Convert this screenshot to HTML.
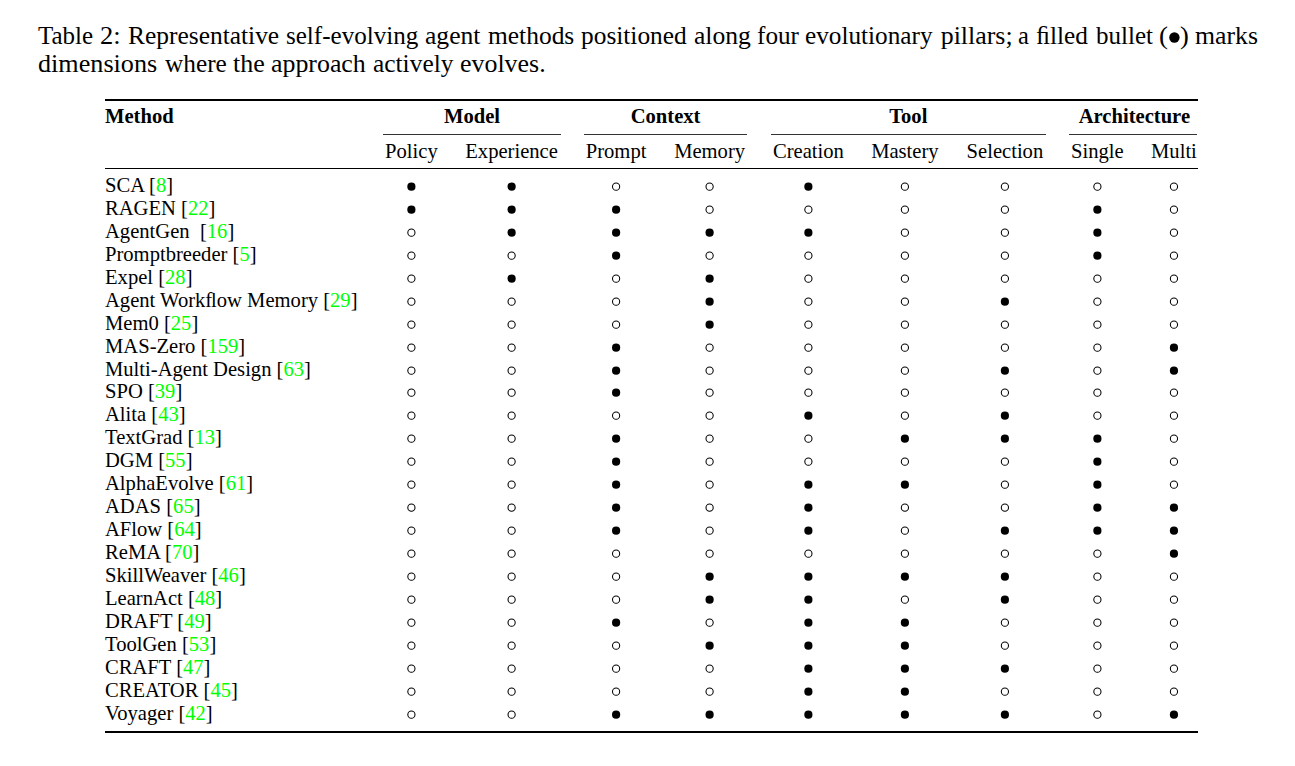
<!DOCTYPE html>
<html><head><meta charset="utf-8"><style>
html,body{margin:0;padding:0;background:#fff;}
body{width:1295px;height:766px;position:relative;overflow:hidden;font-family:"Liberation Serif",serif;color:#000;}
.a{position:absolute;white-space:nowrap;line-height:1;}
.c{position:absolute;white-space:nowrap;line-height:1;text-align:center;width:200px;}
.b{font-weight:bold;}
.g{color:#00ff00;}
.r{position:absolute;background:#000;}
.d{position:absolute;border-radius:50%;background:#000;}
.o{position:absolute;border-radius:50%;box-sizing:border-box;border:1.05px solid #000;}
</style></head><body>

<div class="a" style="left:37.62px;top:23.16px;font-size:25.9px;transform:scaleX(0.9650);transform-origin:0 0">Table</div>
<div class="a" style="left:99.88px;top:23.16px;font-size:25.9px;transform:scaleX(1.0235);transform-origin:0 0">2:</div>
<div class="a" style="left:127.96px;top:23.16px;font-size:25.9px;transform:scaleX(0.9826);transform-origin:0 0">Representative</div>
<div class="a" style="left:285.73px;top:23.16px;font-size:25.9px;transform:scaleX(0.9678);transform-origin:0 0">self-evolving</div>
<div class="a" style="left:425.31px;top:23.16px;font-size:25.9px;transform:scaleX(0.9891);transform-origin:0 0">agent</div>
<div class="a" style="left:487.61px;top:23.16px;font-size:25.9px;transform:scaleX(0.9832);transform-origin:0 0">methods</div>
<div class="a" style="left:580.81px;top:23.16px;font-size:25.9px;transform:scaleX(0.9804);transform-origin:0 0">positioned</div>
<div class="a" style="left:693.51px;top:23.16px;font-size:25.9px;transform:scaleX(0.9893);transform-origin:0 0">along</div>
<div class="a" style="left:756.87px;top:23.16px;font-size:25.9px;transform:scaleX(0.9728);transform-origin:0 0">four</div>
<div class="a" style="left:805.33px;top:23.16px;font-size:25.9px;transform:scaleX(0.9750);transform-origin:0 0">evolutionary</div>
<div class="a" style="left:940.70px;top:23.16px;font-size:25.9px;transform:scaleX(1.0000);transform-origin:0 0">pillars;</div>
<div class="a" style="left:1018.05px;top:23.16px;font-size:25.9px;transform:scaleX(0.9463);transform-origin:0 0">a</div>
<div class="a" style="left:1035.97px;top:23.16px;font-size:25.9px;transform:scaleX(0.9761);transform-origin:0 0">ﬁlled</div>
<div class="a" style="left:1095.50px;top:23.16px;font-size:25.9px;transform:scaleX(0.9668);transform-origin:0 0">bullet</div>
<div class="a" style="left:1159.06px;top:23.16px;font-size:25.9px;transform:scaleX(1.0370);transform-origin:0 0">(</div>
<div class="a" style="left:1180.23px;top:23.16px;font-size:25.9px;transform:scaleX(1.0222);transform-origin:0 0">)</div>
<div class="a" style="left:1195.20px;top:23.16px;font-size:25.9px;transform:scaleX(0.9943);transform-origin:0 0">marks</div>
<div class="a" style="left:37.59px;top:51.01px;font-size:25.9px;transform:scaleX(1.0103);transform-origin:0 0">dimensions</div>
<div class="a" style="left:164.90px;top:51.01px;font-size:25.9px;transform:scaleX(0.9776);transform-origin:0 0">where</div>
<div class="a" style="left:233.45px;top:51.01px;font-size:25.9px;transform:scaleX(1.0033);transform-origin:0 0">the</div>
<div class="a" style="left:271.00px;top:51.01px;font-size:25.9px;transform:scaleX(0.9989);transform-origin:0 0">approach</div>
<div class="a" style="left:372.92px;top:51.01px;font-size:25.9px;transform:scaleX(0.9815);transform-origin:0 0">actively</div>
<div class="a" style="left:460.00px;top:51.01px;font-size:25.9px;transform:scaleX(1.0006);transform-origin:0 0">evolves.</div>
<div class="r" style="left:105px;width:1092.60px;top:99px;height:2px"></div>
<div class="r" style="left:105px;width:1092.60px;top:168px;height:1.3px"></div>
<div class="r" style="left:105px;width:1092.60px;top:731px;height:2px"></div>
<div class="r" style="left:383.1px;width:177.60px;top:134px;height:1px;background:#333"></div>
<div class="r" style="left:583.7px;width:163.80px;top:134px;height:1px;background:#333"></div>
<div class="r" style="left:770.6px;width:275.40px;top:134px;height:1px;background:#333"></div>
<div class="r" style="left:1069.1px;width:128.30px;top:134px;height:1px;background:#333"></div>
<div class="a b" style="left:105.0px;top:105.75px;font-size:20.6px">Method</div>
<div class="c b" style="left:372.00px;top:105.75px;font-size:20.6px">Model</div>
<div class="c b" style="left:565.60px;top:105.75px;font-size:20.6px">Context</div>
<div class="c b" style="left:808.30px;top:105.75px;font-size:20.6px">Tool</div>
<div class="c b" style="left:1034.40px;top:105.75px;font-size:20.6px">Architecture</div>
<div class="c" style="left:311.40px;top:140.75px;font-size:20.6px">Policy</div>
<div class="c" style="left:411.60px;top:140.75px;font-size:20.6px">Experience</div>
<div class="c" style="left:516.10px;top:140.75px;font-size:20.6px">Prompt</div>
<div class="c" style="left:609.60px;top:140.75px;font-size:20.6px">Memory</div>
<div class="c" style="left:708.40px;top:140.75px;font-size:20.6px">Creation</div>
<div class="c" style="left:804.90px;top:140.75px;font-size:20.6px">Mastery</div>
<div class="c" style="left:904.90px;top:140.75px;font-size:20.6px">Selection</div>
<div class="c" style="left:997.40px;top:140.75px;font-size:20.6px">Single</div>
<div class="c" style="left:1073.95px;top:140.75px;font-size:20.6px">Multi</div>
<div class="a" style="left:105.0px;top:174.75px;font-size:20.6px">SCA [<span class="g">8</span>]</div>
<div class="a" style="left:105.0px;top:197.75px;font-size:20.6px">RAGEN [<span class="g">22</span>]</div>
<div class="a" style="left:105.0px;top:220.75px;font-size:20.6px">AgentGen&nbsp; [<span class="g">16</span>]</div>
<div class="a" style="left:105.0px;top:243.75px;font-size:20.6px">Promptbreeder [<span class="g">5</span>]</div>
<div class="a" style="left:105.0px;top:266.75px;font-size:20.6px">Expel [<span class="g">28</span>]</div>
<div class="a" style="left:105.0px;top:289.75px;font-size:20.6px">Agent Workﬂow Memory [<span class="g">29</span>]</div>
<div class="a" style="left:105.0px;top:312.75px;font-size:20.6px">Mem0 [<span class="g">25</span>]</div>
<div class="a" style="left:105.0px;top:335.75px;font-size:20.6px">MAS-Zero [<span class="g">159</span>]</div>
<div class="a" style="left:105.0px;top:358.75px;font-size:20.6px">Multi-Agent Design [<span class="g">63</span>]</div>
<div class="a" style="left:105.0px;top:380.75px;font-size:20.6px">SPO [<span class="g">39</span>]</div>
<div class="a" style="left:105.0px;top:403.75px;font-size:20.6px">Alita [<span class="g">43</span>]</div>
<div class="a" style="left:105.0px;top:426.75px;font-size:20.6px">TextGrad [<span class="g">13</span>]</div>
<div class="a" style="left:105.0px;top:449.75px;font-size:20.6px">DGM [<span class="g">55</span>]</div>
<div class="a" style="left:105.0px;top:472.75px;font-size:20.6px">AlphaEvolve [<span class="g">61</span>]</div>
<div class="a" style="left:105.0px;top:495.75px;font-size:20.6px">ADAS [<span class="g">65</span>]</div>
<div class="a" style="left:105.0px;top:518.75px;font-size:20.6px">AFlow [<span class="g">64</span>]</div>
<div class="a" style="left:105.0px;top:541.75px;font-size:20.6px">ReMA [<span class="g">70</span>]</div>
<div class="a" style="left:105.0px;top:564.75px;font-size:20.6px">SkillWeaver [<span class="g">46</span>]</div>
<div class="a" style="left:105.0px;top:587.75px;font-size:20.6px">LearnAct [<span class="g">48</span>]</div>
<div class="a" style="left:105.0px;top:610.75px;font-size:20.6px">DRAFT [<span class="g">49</span>]</div>
<div class="a" style="left:105.0px;top:633.75px;font-size:20.6px">ToolGen [<span class="g">53</span>]</div>
<div class="a" style="left:105.0px;top:656.75px;font-size:20.6px">CRAFT [<span class="g">47</span>]</div>
<div class="a" style="left:105.0px;top:679.75px;font-size:20.6px">CREATOR [<span class="g">45</span>]</div>
<div class="a" style="left:105.0px;top:702.75px;font-size:20.6px">Voyager [<span class="g">42</span>]</div>
<svg style="position:absolute;left:0;top:0" width="1295" height="766" viewBox="0 0 1295 766"><circle cx="1174.4" cy="37.45" r="5.2"/><circle cx="411.40" cy="186.65" r="4.1"/><circle cx="511.60" cy="186.65" r="4.1"/><circle cx="616.10" cy="186.65" r="3.6" fill="none" stroke="#000" stroke-width="1.05"/><circle cx="709.60" cy="186.65" r="3.6" fill="none" stroke="#000" stroke-width="1.05"/><circle cx="808.40" cy="186.65" r="4.1"/><circle cx="904.90" cy="186.65" r="3.6" fill="none" stroke="#000" stroke-width="1.05"/><circle cx="1004.90" cy="186.65" r="3.6" fill="none" stroke="#000" stroke-width="1.05"/><circle cx="1097.40" cy="186.65" r="3.6" fill="none" stroke="#000" stroke-width="1.05"/><circle cx="1173.95" cy="186.65" r="3.6" fill="none" stroke="#000" stroke-width="1.05"/><circle cx="411.40" cy="209.65" r="4.1"/><circle cx="511.60" cy="209.65" r="4.1"/><circle cx="616.10" cy="209.65" r="4.1"/><circle cx="709.60" cy="209.65" r="3.6" fill="none" stroke="#000" stroke-width="1.05"/><circle cx="808.40" cy="209.65" r="3.6" fill="none" stroke="#000" stroke-width="1.05"/><circle cx="904.90" cy="209.65" r="3.6" fill="none" stroke="#000" stroke-width="1.05"/><circle cx="1004.90" cy="209.65" r="3.6" fill="none" stroke="#000" stroke-width="1.05"/><circle cx="1097.40" cy="209.65" r="4.1"/><circle cx="1173.95" cy="209.65" r="3.6" fill="none" stroke="#000" stroke-width="1.05"/><circle cx="411.40" cy="232.65" r="3.6" fill="none" stroke="#000" stroke-width="1.05"/><circle cx="511.60" cy="232.65" r="4.1"/><circle cx="616.10" cy="232.65" r="4.1"/><circle cx="709.60" cy="232.65" r="4.1"/><circle cx="808.40" cy="232.65" r="4.1"/><circle cx="904.90" cy="232.65" r="3.6" fill="none" stroke="#000" stroke-width="1.05"/><circle cx="1004.90" cy="232.65" r="3.6" fill="none" stroke="#000" stroke-width="1.05"/><circle cx="1097.40" cy="232.65" r="4.1"/><circle cx="1173.95" cy="232.65" r="3.6" fill="none" stroke="#000" stroke-width="1.05"/><circle cx="411.40" cy="255.65" r="3.6" fill="none" stroke="#000" stroke-width="1.05"/><circle cx="511.60" cy="255.65" r="3.6" fill="none" stroke="#000" stroke-width="1.05"/><circle cx="616.10" cy="255.65" r="4.1"/><circle cx="709.60" cy="255.65" r="3.6" fill="none" stroke="#000" stroke-width="1.05"/><circle cx="808.40" cy="255.65" r="3.6" fill="none" stroke="#000" stroke-width="1.05"/><circle cx="904.90" cy="255.65" r="3.6" fill="none" stroke="#000" stroke-width="1.05"/><circle cx="1004.90" cy="255.65" r="3.6" fill="none" stroke="#000" stroke-width="1.05"/><circle cx="1097.40" cy="255.65" r="4.1"/><circle cx="1173.95" cy="255.65" r="3.6" fill="none" stroke="#000" stroke-width="1.05"/><circle cx="411.40" cy="278.65" r="3.6" fill="none" stroke="#000" stroke-width="1.05"/><circle cx="511.60" cy="278.65" r="4.1"/><circle cx="616.10" cy="278.65" r="3.6" fill="none" stroke="#000" stroke-width="1.05"/><circle cx="709.60" cy="278.65" r="4.1"/><circle cx="808.40" cy="278.65" r="3.6" fill="none" stroke="#000" stroke-width="1.05"/><circle cx="904.90" cy="278.65" r="3.6" fill="none" stroke="#000" stroke-width="1.05"/><circle cx="1004.90" cy="278.65" r="3.6" fill="none" stroke="#000" stroke-width="1.05"/><circle cx="1097.40" cy="278.65" r="3.6" fill="none" stroke="#000" stroke-width="1.05"/><circle cx="1173.95" cy="278.65" r="3.6" fill="none" stroke="#000" stroke-width="1.05"/><circle cx="411.40" cy="301.65" r="3.6" fill="none" stroke="#000" stroke-width="1.05"/><circle cx="511.60" cy="301.65" r="3.6" fill="none" stroke="#000" stroke-width="1.05"/><circle cx="616.10" cy="301.65" r="3.6" fill="none" stroke="#000" stroke-width="1.05"/><circle cx="709.60" cy="301.65" r="4.1"/><circle cx="808.40" cy="301.65" r="3.6" fill="none" stroke="#000" stroke-width="1.05"/><circle cx="904.90" cy="301.65" r="3.6" fill="none" stroke="#000" stroke-width="1.05"/><circle cx="1004.90" cy="301.65" r="4.1"/><circle cx="1097.40" cy="301.65" r="3.6" fill="none" stroke="#000" stroke-width="1.05"/><circle cx="1173.95" cy="301.65" r="3.6" fill="none" stroke="#000" stroke-width="1.05"/><circle cx="411.40" cy="324.65" r="3.6" fill="none" stroke="#000" stroke-width="1.05"/><circle cx="511.60" cy="324.65" r="3.6" fill="none" stroke="#000" stroke-width="1.05"/><circle cx="616.10" cy="324.65" r="3.6" fill="none" stroke="#000" stroke-width="1.05"/><circle cx="709.60" cy="324.65" r="4.1"/><circle cx="808.40" cy="324.65" r="3.6" fill="none" stroke="#000" stroke-width="1.05"/><circle cx="904.90" cy="324.65" r="3.6" fill="none" stroke="#000" stroke-width="1.05"/><circle cx="1004.90" cy="324.65" r="3.6" fill="none" stroke="#000" stroke-width="1.05"/><circle cx="1097.40" cy="324.65" r="3.6" fill="none" stroke="#000" stroke-width="1.05"/><circle cx="1173.95" cy="324.65" r="3.6" fill="none" stroke="#000" stroke-width="1.05"/><circle cx="411.40" cy="347.65" r="3.6" fill="none" stroke="#000" stroke-width="1.05"/><circle cx="511.60" cy="347.65" r="3.6" fill="none" stroke="#000" stroke-width="1.05"/><circle cx="616.10" cy="347.65" r="4.1"/><circle cx="709.60" cy="347.65" r="3.6" fill="none" stroke="#000" stroke-width="1.05"/><circle cx="808.40" cy="347.65" r="3.6" fill="none" stroke="#000" stroke-width="1.05"/><circle cx="904.90" cy="347.65" r="3.6" fill="none" stroke="#000" stroke-width="1.05"/><circle cx="1004.90" cy="347.65" r="3.6" fill="none" stroke="#000" stroke-width="1.05"/><circle cx="1097.40" cy="347.65" r="3.6" fill="none" stroke="#000" stroke-width="1.05"/><circle cx="1173.95" cy="347.65" r="4.1"/><circle cx="411.40" cy="370.65" r="3.6" fill="none" stroke="#000" stroke-width="1.05"/><circle cx="511.60" cy="370.65" r="3.6" fill="none" stroke="#000" stroke-width="1.05"/><circle cx="616.10" cy="370.65" r="4.1"/><circle cx="709.60" cy="370.65" r="3.6" fill="none" stroke="#000" stroke-width="1.05"/><circle cx="808.40" cy="370.65" r="3.6" fill="none" stroke="#000" stroke-width="1.05"/><circle cx="904.90" cy="370.65" r="3.6" fill="none" stroke="#000" stroke-width="1.05"/><circle cx="1004.90" cy="370.65" r="4.1"/><circle cx="1097.40" cy="370.65" r="3.6" fill="none" stroke="#000" stroke-width="1.05"/><circle cx="1173.95" cy="370.65" r="4.1"/><circle cx="411.40" cy="392.65" r="3.6" fill="none" stroke="#000" stroke-width="1.05"/><circle cx="511.60" cy="392.65" r="3.6" fill="none" stroke="#000" stroke-width="1.05"/><circle cx="616.10" cy="392.65" r="4.1"/><circle cx="709.60" cy="392.65" r="3.6" fill="none" stroke="#000" stroke-width="1.05"/><circle cx="808.40" cy="392.65" r="3.6" fill="none" stroke="#000" stroke-width="1.05"/><circle cx="904.90" cy="392.65" r="3.6" fill="none" stroke="#000" stroke-width="1.05"/><circle cx="1004.90" cy="392.65" r="3.6" fill="none" stroke="#000" stroke-width="1.05"/><circle cx="1097.40" cy="392.65" r="3.6" fill="none" stroke="#000" stroke-width="1.05"/><circle cx="1173.95" cy="392.65" r="3.6" fill="none" stroke="#000" stroke-width="1.05"/><circle cx="411.40" cy="415.65" r="3.6" fill="none" stroke="#000" stroke-width="1.05"/><circle cx="511.60" cy="415.65" r="3.6" fill="none" stroke="#000" stroke-width="1.05"/><circle cx="616.10" cy="415.65" r="3.6" fill="none" stroke="#000" stroke-width="1.05"/><circle cx="709.60" cy="415.65" r="3.6" fill="none" stroke="#000" stroke-width="1.05"/><circle cx="808.40" cy="415.65" r="4.1"/><circle cx="904.90" cy="415.65" r="3.6" fill="none" stroke="#000" stroke-width="1.05"/><circle cx="1004.90" cy="415.65" r="4.1"/><circle cx="1097.40" cy="415.65" r="3.6" fill="none" stroke="#000" stroke-width="1.05"/><circle cx="1173.95" cy="415.65" r="3.6" fill="none" stroke="#000" stroke-width="1.05"/><circle cx="411.40" cy="438.65" r="3.6" fill="none" stroke="#000" stroke-width="1.05"/><circle cx="511.60" cy="438.65" r="3.6" fill="none" stroke="#000" stroke-width="1.05"/><circle cx="616.10" cy="438.65" r="4.1"/><circle cx="709.60" cy="438.65" r="3.6" fill="none" stroke="#000" stroke-width="1.05"/><circle cx="808.40" cy="438.65" r="3.6" fill="none" stroke="#000" stroke-width="1.05"/><circle cx="904.90" cy="438.65" r="4.1"/><circle cx="1004.90" cy="438.65" r="4.1"/><circle cx="1097.40" cy="438.65" r="4.1"/><circle cx="1173.95" cy="438.65" r="3.6" fill="none" stroke="#000" stroke-width="1.05"/><circle cx="411.40" cy="461.65" r="3.6" fill="none" stroke="#000" stroke-width="1.05"/><circle cx="511.60" cy="461.65" r="3.6" fill="none" stroke="#000" stroke-width="1.05"/><circle cx="616.10" cy="461.65" r="4.1"/><circle cx="709.60" cy="461.65" r="3.6" fill="none" stroke="#000" stroke-width="1.05"/><circle cx="808.40" cy="461.65" r="3.6" fill="none" stroke="#000" stroke-width="1.05"/><circle cx="904.90" cy="461.65" r="3.6" fill="none" stroke="#000" stroke-width="1.05"/><circle cx="1004.90" cy="461.65" r="3.6" fill="none" stroke="#000" stroke-width="1.05"/><circle cx="1097.40" cy="461.65" r="4.1"/><circle cx="1173.95" cy="461.65" r="3.6" fill="none" stroke="#000" stroke-width="1.05"/><circle cx="411.40" cy="484.65" r="3.6" fill="none" stroke="#000" stroke-width="1.05"/><circle cx="511.60" cy="484.65" r="3.6" fill="none" stroke="#000" stroke-width="1.05"/><circle cx="616.10" cy="484.65" r="4.1"/><circle cx="709.60" cy="484.65" r="3.6" fill="none" stroke="#000" stroke-width="1.05"/><circle cx="808.40" cy="484.65" r="4.1"/><circle cx="904.90" cy="484.65" r="4.1"/><circle cx="1004.90" cy="484.65" r="3.6" fill="none" stroke="#000" stroke-width="1.05"/><circle cx="1097.40" cy="484.65" r="4.1"/><circle cx="1173.95" cy="484.65" r="3.6" fill="none" stroke="#000" stroke-width="1.05"/><circle cx="411.40" cy="507.65" r="3.6" fill="none" stroke="#000" stroke-width="1.05"/><circle cx="511.60" cy="507.65" r="3.6" fill="none" stroke="#000" stroke-width="1.05"/><circle cx="616.10" cy="507.65" r="4.1"/><circle cx="709.60" cy="507.65" r="3.6" fill="none" stroke="#000" stroke-width="1.05"/><circle cx="808.40" cy="507.65" r="4.1"/><circle cx="904.90" cy="507.65" r="3.6" fill="none" stroke="#000" stroke-width="1.05"/><circle cx="1004.90" cy="507.65" r="3.6" fill="none" stroke="#000" stroke-width="1.05"/><circle cx="1097.40" cy="507.65" r="4.1"/><circle cx="1173.95" cy="507.65" r="4.1"/><circle cx="411.40" cy="530.65" r="3.6" fill="none" stroke="#000" stroke-width="1.05"/><circle cx="511.60" cy="530.65" r="3.6" fill="none" stroke="#000" stroke-width="1.05"/><circle cx="616.10" cy="530.65" r="4.1"/><circle cx="709.60" cy="530.65" r="3.6" fill="none" stroke="#000" stroke-width="1.05"/><circle cx="808.40" cy="530.65" r="4.1"/><circle cx="904.90" cy="530.65" r="3.6" fill="none" stroke="#000" stroke-width="1.05"/><circle cx="1004.90" cy="530.65" r="4.1"/><circle cx="1097.40" cy="530.65" r="4.1"/><circle cx="1173.95" cy="530.65" r="4.1"/><circle cx="411.40" cy="553.65" r="3.6" fill="none" stroke="#000" stroke-width="1.05"/><circle cx="511.60" cy="553.65" r="3.6" fill="none" stroke="#000" stroke-width="1.05"/><circle cx="616.10" cy="553.65" r="3.6" fill="none" stroke="#000" stroke-width="1.05"/><circle cx="709.60" cy="553.65" r="3.6" fill="none" stroke="#000" stroke-width="1.05"/><circle cx="808.40" cy="553.65" r="3.6" fill="none" stroke="#000" stroke-width="1.05"/><circle cx="904.90" cy="553.65" r="3.6" fill="none" stroke="#000" stroke-width="1.05"/><circle cx="1004.90" cy="553.65" r="3.6" fill="none" stroke="#000" stroke-width="1.05"/><circle cx="1097.40" cy="553.65" r="3.6" fill="none" stroke="#000" stroke-width="1.05"/><circle cx="1173.95" cy="553.65" r="4.1"/><circle cx="411.40" cy="576.65" r="3.6" fill="none" stroke="#000" stroke-width="1.05"/><circle cx="511.60" cy="576.65" r="3.6" fill="none" stroke="#000" stroke-width="1.05"/><circle cx="616.10" cy="576.65" r="3.6" fill="none" stroke="#000" stroke-width="1.05"/><circle cx="709.60" cy="576.65" r="4.1"/><circle cx="808.40" cy="576.65" r="4.1"/><circle cx="904.90" cy="576.65" r="4.1"/><circle cx="1004.90" cy="576.65" r="4.1"/><circle cx="1097.40" cy="576.65" r="3.6" fill="none" stroke="#000" stroke-width="1.05"/><circle cx="1173.95" cy="576.65" r="3.6" fill="none" stroke="#000" stroke-width="1.05"/><circle cx="411.40" cy="599.65" r="3.6" fill="none" stroke="#000" stroke-width="1.05"/><circle cx="511.60" cy="599.65" r="3.6" fill="none" stroke="#000" stroke-width="1.05"/><circle cx="616.10" cy="599.65" r="3.6" fill="none" stroke="#000" stroke-width="1.05"/><circle cx="709.60" cy="599.65" r="4.1"/><circle cx="808.40" cy="599.65" r="4.1"/><circle cx="904.90" cy="599.65" r="3.6" fill="none" stroke="#000" stroke-width="1.05"/><circle cx="1004.90" cy="599.65" r="4.1"/><circle cx="1097.40" cy="599.65" r="3.6" fill="none" stroke="#000" stroke-width="1.05"/><circle cx="1173.95" cy="599.65" r="3.6" fill="none" stroke="#000" stroke-width="1.05"/><circle cx="411.40" cy="622.65" r="3.6" fill="none" stroke="#000" stroke-width="1.05"/><circle cx="511.60" cy="622.65" r="3.6" fill="none" stroke="#000" stroke-width="1.05"/><circle cx="616.10" cy="622.65" r="4.1"/><circle cx="709.60" cy="622.65" r="3.6" fill="none" stroke="#000" stroke-width="1.05"/><circle cx="808.40" cy="622.65" r="4.1"/><circle cx="904.90" cy="622.65" r="4.1"/><circle cx="1004.90" cy="622.65" r="3.6" fill="none" stroke="#000" stroke-width="1.05"/><circle cx="1097.40" cy="622.65" r="3.6" fill="none" stroke="#000" stroke-width="1.05"/><circle cx="1173.95" cy="622.65" r="3.6" fill="none" stroke="#000" stroke-width="1.05"/><circle cx="411.40" cy="645.65" r="3.6" fill="none" stroke="#000" stroke-width="1.05"/><circle cx="511.60" cy="645.65" r="3.6" fill="none" stroke="#000" stroke-width="1.05"/><circle cx="616.10" cy="645.65" r="3.6" fill="none" stroke="#000" stroke-width="1.05"/><circle cx="709.60" cy="645.65" r="4.1"/><circle cx="808.40" cy="645.65" r="4.1"/><circle cx="904.90" cy="645.65" r="4.1"/><circle cx="1004.90" cy="645.65" r="3.6" fill="none" stroke="#000" stroke-width="1.05"/><circle cx="1097.40" cy="645.65" r="3.6" fill="none" stroke="#000" stroke-width="1.05"/><circle cx="1173.95" cy="645.65" r="3.6" fill="none" stroke="#000" stroke-width="1.05"/><circle cx="411.40" cy="668.65" r="3.6" fill="none" stroke="#000" stroke-width="1.05"/><circle cx="511.60" cy="668.65" r="3.6" fill="none" stroke="#000" stroke-width="1.05"/><circle cx="616.10" cy="668.65" r="3.6" fill="none" stroke="#000" stroke-width="1.05"/><circle cx="709.60" cy="668.65" r="3.6" fill="none" stroke="#000" stroke-width="1.05"/><circle cx="808.40" cy="668.65" r="4.1"/><circle cx="904.90" cy="668.65" r="4.1"/><circle cx="1004.90" cy="668.65" r="4.1"/><circle cx="1097.40" cy="668.65" r="3.6" fill="none" stroke="#000" stroke-width="1.05"/><circle cx="1173.95" cy="668.65" r="3.6" fill="none" stroke="#000" stroke-width="1.05"/><circle cx="411.40" cy="691.65" r="3.6" fill="none" stroke="#000" stroke-width="1.05"/><circle cx="511.60" cy="691.65" r="3.6" fill="none" stroke="#000" stroke-width="1.05"/><circle cx="616.10" cy="691.65" r="3.6" fill="none" stroke="#000" stroke-width="1.05"/><circle cx="709.60" cy="691.65" r="3.6" fill="none" stroke="#000" stroke-width="1.05"/><circle cx="808.40" cy="691.65" r="4.1"/><circle cx="904.90" cy="691.65" r="4.1"/><circle cx="1004.90" cy="691.65" r="3.6" fill="none" stroke="#000" stroke-width="1.05"/><circle cx="1097.40" cy="691.65" r="3.6" fill="none" stroke="#000" stroke-width="1.05"/><circle cx="1173.95" cy="691.65" r="3.6" fill="none" stroke="#000" stroke-width="1.05"/><circle cx="411.40" cy="714.65" r="3.6" fill="none" stroke="#000" stroke-width="1.05"/><circle cx="511.60" cy="714.65" r="3.6" fill="none" stroke="#000" stroke-width="1.05"/><circle cx="616.10" cy="714.65" r="4.1"/><circle cx="709.60" cy="714.65" r="4.1"/><circle cx="808.40" cy="714.65" r="4.1"/><circle cx="904.90" cy="714.65" r="4.1"/><circle cx="1004.90" cy="714.65" r="4.1"/><circle cx="1097.40" cy="714.65" r="3.6" fill="none" stroke="#000" stroke-width="1.05"/><circle cx="1173.95" cy="714.65" r="4.1"/></svg>
</body></html>
